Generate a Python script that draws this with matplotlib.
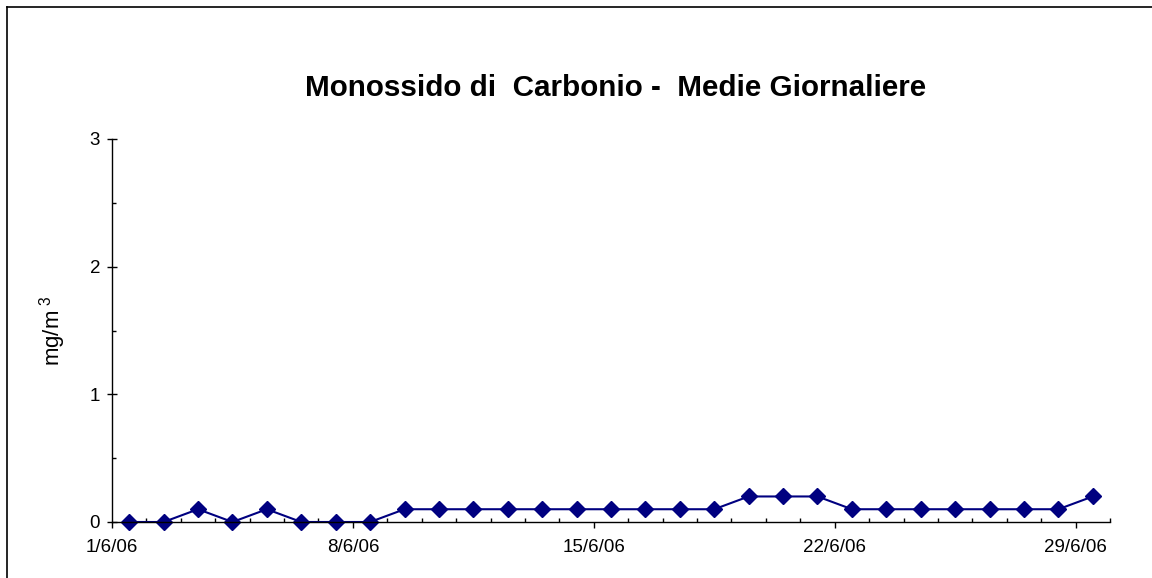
import matplotlib.pyplot as plt
from matplotlib.lines import Line2D
from matplotlib.ticker import FixedLocator, NullFormatter

# daily means, 1/6/06 .. 29/6/06
days = [f"{d}/6/06" for d in range(1, 30)]
co_mean = [0, 0, 0.1, 0, 0.1, 0, 0, 0, 0.1, 0.1, 0.1,
           0.1, 0.1, 0.1, 0.1, 0.1, 0.1, 0.1, 0.2, 0.2, 0.2, 0.1,
           0.1, 0.1, 0.1, 0.1, 0.1, 0.1, 0.2]
label_days = ["1/6/06", "8/6/06", "15/6/06", "22/6/06", "29/6/06"]

plt.rcParams['font.family'] = ['Liberation Sans', 'DejaVu Sans']
plt.rcParams['mathtext.default'] = 'regular'

W, H = 1152, 578
fig = plt.figure(figsize=(W / 100, H / 100), dpi=100)
ax = fig.add_axes([112 / W, 1 - 522 / H, (1110 - 112) / W, (522 - 139) / H])

x = list(range(len(days)))
ax.plot(x, co_mean, color='#000080', lw=1.5, marker='D', markersize=8.5,
        markeredgecolor='#000080', markerfacecolor='#000080', clip_on=False)

ax.set_xlim(-0.5, len(days) - 0.5)
ax.set_ylim(0, 3)

# category axis: labels on the left boundary of their category
major_pos = [days.index(d) - 0.5 for d in label_days]
ax.xaxis.set_major_locator(FixedLocator(major_pos))
ax.set_xticklabels(label_days)
ax.xaxis.set_minor_locator(FixedLocator([i - 0.5 for i in range(len(days) + 1)]))
ax.xaxis.set_minor_formatter(NullFormatter())
ax.tick_params(axis='x', which='major', direction='out', length=4.5, width=1,
               labelsize=13.5, pad=8)
ax.tick_params(axis='x', which='minor', direction='in', length=3, width=1)

ax.set_yticks([0, 1, 2, 3])
ax.yaxis.set_minor_locator(FixedLocator([0.5, 1.5, 2.5]))
ax.tick_params(axis='y', which='major', direction='inout', length=7, width=1,
               labelsize=13.5, pad=5)
ax.tick_params(axis='y', which='minor', direction='in', length=3, width=1)

for s in ['top', 'right']:
    ax.spines[s].set_visible(False)
for s in ['left', 'bottom']:
    ax.spines[s].set_linewidth(1)

ax.set_ylabel('mg/m$^{\\ 3}$', fontsize=16)
ax.yaxis.set_label_coords((68 - 112) / (1110 - 112), 0.5)

fig.text(616 / W, 1 - 88 / H, 'Monossido di  Carbonio -  Medie Giornaliere',
         ha='center', va='center', fontsize=21.3, fontweight='bold')

# outer frame (top and left edges only visible)
fig.add_artist(Line2D([7 / W, 1], [1 - 7 / H, 1 - 7 / H], color='black',
                      lw=1.2, transform=fig.transFigure))
fig.add_artist(Line2D([7 / W, 7 / W], [0, 1 - 7 / H], color='black',
                      lw=1.2, transform=fig.transFigure))

fig.savefig('out.png', dpi=100)
